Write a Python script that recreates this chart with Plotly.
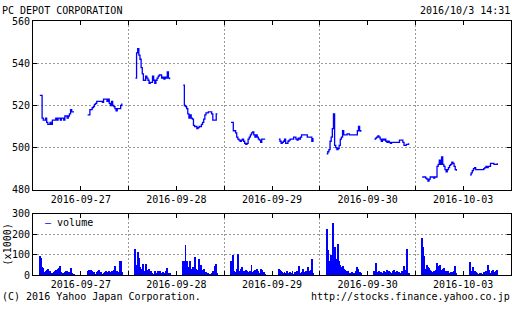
import plotly.graph_objects as go

# ---------------- data ----------------
days = ['2016-09-27', '2016-09-28', '2016-09-29', '2016-09-30', '2016-10-03']

# prices every 5 minutes, morning 9:00-11:30, afternoon 12:30-15:00
p0927_am = [524.8, 524.8, 514, 513, 513, 514, 512, 511, 511, 512, 511, 513, 513, 513, 514, 513,
            514, 514, 513, 514, 514, 513, 515, 515, 514, 515, 516, 518, 517, 517, 517]
p0927_pm = [515.5, 515.5, 518, 518, 519, 519.5, 520.5, 521, 522, 522, 522, 522, 522, 521.5, 523, 523,
            523, 522, 523, 521, 520, 522, 520, 519.5, 518.5, 517.5, 518.5, 518.5, 518.5, 520, 521]
p0928_am = [533, 545, 547, 544, 542, 538, 535, 532, 532, 534, 533, 532, 530.5, 531, 531, 534,
            532, 530.5, 532, 533, 534, 534.5, 534.5, 533, 533.5, 532.5, 533.5, 533, 536, 533, 532.5]
p0928_pm = [529.7, 520, 519.5, 518.5, 516, 514, 515.5, 514, 513.5, 510.5, 510, 510, 509, 509.5, 510, 510,
            511, 512, 513.5, 515.5, 516.5, 516.5, 517, 517, 517, 516, 513, 513, 513, 516, 516]
p0929_am = [512, 512, 508, 508, 507, 505, 504, 503.5, 503, 503.5, 504, 503, 502, 501.5, 502, 504,
            505, 506, 507, 507.5, 506, 505, 506, 505, 504, 503.5, 502.5, 504, 504, 504, 504]
p0929_pm = [504, 503, 502, 502.5, 503, 504, 502, 502, 503, 503.5, 504, 504, 504, 505, 505, 504,
            503.5, 504.5, 504, 505, 506, 506, 506, 506, 506, 505, 505, 505, 505, 503, 504.5]
p0930_am = [497, 498, 499, 503, 505, 509, 516, 501, 500, 499, 499.5, 501, 504, 505, 508, 506,
            506, 506, 506.5, 506.5, 506, 506, 506, 506, 506, 506, 506, 508, 510, 508, 507.5]
p0930_pm = [504, 504.5, 505, 505.5, 505, 504, 503, 504, 503.5, 504, 503, 502.5, 503, 502.5, 502, 502.5,
            502.5, 502.5, 502.5, 502.5, 502.5, 502.5, 503.5, 503.5, 503.5, 502.5, 501, 501, 501.5, 501.5, 502]
p1003_am = [486, 486, 486, 485.5, 485, 484, 485, 486, 486, 486, 485.5, 486, 486, 491, 492, 494,
            492, 495.5, 492, 491, 489.5, 488.5, 489.5, 490.5, 491.5, 492, 493, 492.5, 491, 489.5, 489]
p1003_pm = [487, 488, 489, 490, 490.5, 489.5, 489.5, 489.5, 489.5, 489.5, 489.5, 489.5, 490, 490.5,
            491, 490.5, 491, 491, 492.5, 492.5, 492.5, 492, 492, 492, 492.5]

# volume (x1000) per 5 minutes
v0927_am = [97, 86, 40, 38, 16, 20, 25, 34, 16, 20, 8, 10, 16, 20, 28, 12, 30, 39, 47, 16, 10, 8, 16,
            20, 20, 8, 16, 39, 10, 8, 5]
v0927_pm = [20, 28, 16, 25, 20, 8, 16, 8, 16, 20, 25, 8, 16, 8, 12, 16, 20, 12, 16, 20, 16, 20, 20,
            25, 45, 20, 20, 16, 70, 72, 16]
v0928_am = [128, 50, 117, 86, 40, 30, 16, 55, 20, 55, 25, 16, 34, 8, 20, 12, 8, 20, 12, 8, 20, 8, 20,
            12, 16, 8, 12, 20, 39, 12, 10]
v0928_pm = [70, 70, 150, 70, 30, 40, 70, 25, 30, 40, 92, 30, 25, 20, 80, 40, 50, 25, 30, 12, 15, 10,
            10, 8, 8, 12, 20, 10, 45, 55, 10]
v0929_am = [70, 30, 98, 20, 15, 30, 105, 15, 20, 30, 40, 20, 15, 25, 20, 10, 15, 20, 50, 15, 20, 25,
            10, 30, 20, 12, 30, 25, 10, 15, 8]
v0929_pm = [31, 25, 20, 15, 10, 15, 10, 20, 8, 12, 15, 10, 20, 8, 15, 10, 20, 12, 45, 10, 15, 30, 12,
            15, 20, 10, 40, 20, 25, 80, 10]
v0930_am = [225, 123, 60, 70, 100, 80, 258, 138, 80, 60, 156, 70, 50, 40, 45, 30, 25, 20, 15, 20, 12,
            10, 15, 10, 8, 10, 20, 40, 30, 15, 10]
v0930_pm = [20, 61, 10, 15, 20, 10, 15, 12, 20, 10, 15, 25, 10, 20, 15, 10, 20, 25, 15, 10, 20, 12,
            15, 10, 20, 15, 48, 25, 20, 130, 10]
v1003_am = [184, 140, 96, 30, 50, 40, 35, 25, 20, 15, 20, 15, 25, 60, 45, 30, 50, 25, 30, 35, 15, 20,
            15, 20, 12, 15, 10, 15, 20, 45, 10]
v1003_pm = [66, 20, 15, 40, 20, 15, 10, 8, 5, 10, 12, 8, 15, 12, 20, 10, 50, 25, 10, 20, 25, 15, 12,
            20, 25]

price_tick_vals = [480, 500, 520, 540, 560]
vol_tick_vals = [0, 100, 200, 300]

# ---------------- build series ----------------
DAY_MIN = 420          # 8:30 - 15:30 per day on the axis
AM_OFF, PM_OFF, STEP = 30, 240, 5

sessions_p = [(p0927_am, p0927_pm), (p0928_am, p0928_pm), (p0929_am, p0929_pm),
              (p0930_am, p0930_pm), (p1003_am, p1003_pm)]
sessions_v = [(v0927_am, v0927_pm), (v0928_am, v0928_pm), (v0929_am, v0929_pm),
              (v0930_am, v0930_pm), (v1003_am, v1003_pm)]

px, py, vx, vy = [], [], [], []
for d, ((am, pm), (vam, vpm)) in enumerate(zip(sessions_p, sessions_v)):
    for off, vals, vols in ((AM_OFF, am, vam), (PM_OFF, pm, vpm)):
        xs = [d * DAY_MIN + off + STEP * i for i in range(len(vals))]
        px += xs + [None]
        py += vals + [None]
        vx += [d * DAY_MIN + off + STEP * i for i in range(len(vols))]
        vy += vols

BLUE = '#0000ff'
GRID = '#999999'
FONT = 'DejaVu Sans Mono'

fig = go.Figure()
fig.add_trace(go.Scatter(x=px, y=py, mode='lines', line=dict(color=BLUE, width=1.3, shape='hv'),
                         showlegend=False, connectgaps=False, xaxis='x', yaxis='y'))
fig.add_trace(go.Bar(x=vx, y=vy, width=4.2, marker=dict(color=BLUE, line=dict(width=0)),
                     name='volume', showlegend=False, xaxis='x2', yaxis='y2'))

W, H = 512, 310
x0, x1 = 33 / W, 511 / W
mid_vals = [d * DAY_MIN + DAY_MIN / 2 for d in range(len(days))]
bound_vals = [d * DAY_MIN for d in range(1, len(days))]

xaxis_common = dict(range=[0, DAY_MIN * len(days)], domain=[x0, x1], tickvals=mid_vals, ticktext=days,
                    ticks='inside', ticklen=4, tickcolor='black', showgrid=False, zeroline=False,
                    showline=True, linecolor='black', linewidth=1, mirror='ticks',
                    tickfont=dict(family=FONT, size=10, color='black'),
                    minor=dict(tickvals=bound_vals, showgrid=True, gridcolor=GRID, griddash='2px,2px',
                               gridwidth=1, ticks='inside', ticklen=4, tickcolor='black'))

fig.update_layout(
    width=W, height=H, autosize=False, margin=dict(l=0, r=0, t=0, b=0),
    paper_bgcolor='white', plot_bgcolor='white', bargap=0, showlegend=False,
    font=dict(family=FONT, size=10, color='black'),
    xaxis=dict(**xaxis_common, anchor='y'),
    yaxis=dict(domain=[1 - 191 / H, 1 - 16 / H], range=[480, 560], tickvals=price_tick_vals,
               ticks='inside', ticklen=4, tickcolor='black', showgrid=True, gridcolor=GRID,
               griddash='2px,2px', zeroline=False, showline=True, linecolor='black', linewidth=1,
               mirror='ticks', tickfont=dict(family=FONT, size=10, color='black'), anchor='x'),
    xaxis2=dict(**xaxis_common, anchor='y2'),
    yaxis2=dict(domain=[1 - 280 / H, 1 - 216 / H], range=[0, 300], tickvals=vol_tick_vals,
                ticks='inside', ticklen=4, tickcolor='black', showgrid=True, gridcolor=GRID,
                griddash='2px,2px', zeroline=False, showline=True, linecolor='black', linewidth=1,
                mirror='ticks', tickfont=dict(family=FONT, size=10, color='black'), anchor='x2'),
    annotations=[
        dict(text='PC DEPOT CORPORATION', x=1 / W, y=1 - 5 / H, xref='paper', yref='paper',
             xanchor='left', yanchor='middle', showarrow=False, borderpad=0,
             font=dict(family=FONT, size=10)),
        dict(text='2016/10/3 14:31', x=511 / W, y=1 - 5 / H, xref='paper', yref='paper',
             xanchor='right', yanchor='middle', showarrow=False, borderpad=0,
             font=dict(family=FONT, size=10)),
        dict(text='(C) 2016 Yahoo Japan Corporation.', x=1 / W, y=1 - 302 / H, xref='paper',
             yref='paper', xanchor='left', yanchor='middle', showarrow=False, borderpad=0,
             font=dict(family=FONT, size=10)),
        dict(text='http://stocks.finance.yahoo.co.jp', x=511 / W, y=1 - 302 / H, xref='paper',
             yref='paper', xanchor='right', yanchor='middle', showarrow=False, borderpad=0,
             font=dict(family=FONT, size=10)),
        dict(text='(x1000)', x=7 / W, y=1 - 248 / H, xref='paper', yref='paper', textangle=-90,
             xanchor='center', yanchor='middle', showarrow=False, borderpad=0,
             font=dict(family=FONT, size=10)),
        dict(text='<span style="color:#0000ff">\u2014</span> volume', x=44 / W, y=1 - 225 / H,
             xref='paper', yref='paper', xanchor='left', yanchor='middle', showarrow=False,
             borderpad=0, font=dict(family=FONT, size=10)),
    ],
)

fig.write_html('out.html')
